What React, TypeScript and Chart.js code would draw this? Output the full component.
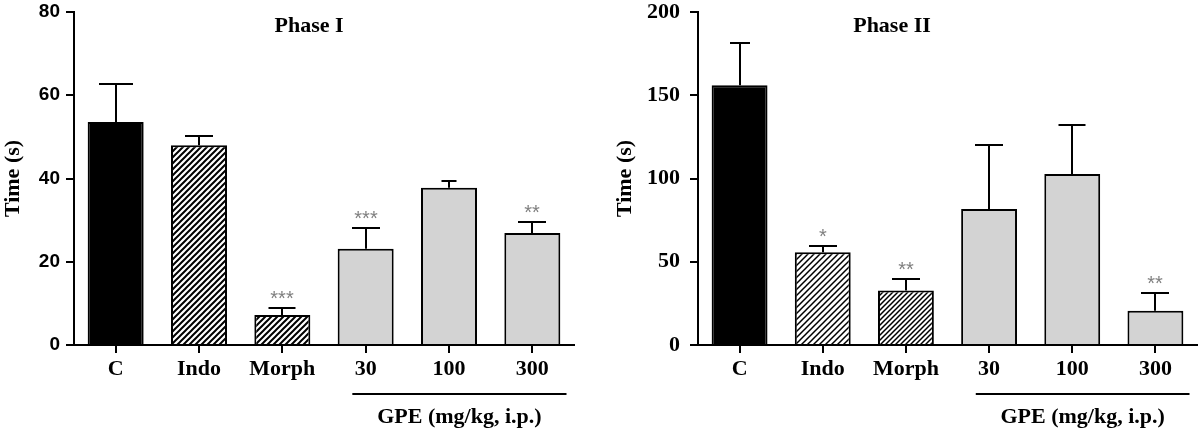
import React, { useEffect, useRef } from "react";
import { Chart, registerables } from "chart.js";

Chart.register(...registerables);

// ---------- data ----------
const categories = ["C", "Indo", "Morph", "30", "100", "300"];

const phase1Means = [53.6, 48.0, 7.2, 23.1, 37.8, 26.9];
const phase1Sem = [9.0, 2.1, 1.7, 5.0, 1.7, 2.7];
const phase1Stars = ["", "", "***", "***", "", "**"];
const phase1Max = 80;
const phase1Step = 20;

const phase2Means = [156.0, 55.7, 32.8, 81.7, 102.7, 20.6];
const phase2Sem = [25.6, 4.0, 6.6, 38.6, 29.4, 10.4];
const phase2Stars = ["", "*", "**", "", "", "**"];
const phase2Max = 200;
const phase2Step = 50;

const groupLabel = "GPE (mg/kg, i.p.)";
const yTitle = "Time (s)";

// ---------- styling ----------
const SERIF = "'Liberation Serif', 'Times New Roman', serif";
const SANS = "'Liberation Sans', Arial, sans-serif";

function makeHatch(ctx: CanvasRenderingContext2D, spacing: number, lw: number) {
  const c = document.createElement("canvas");
  c.width = spacing;
  c.height = spacing;
  const t = c.getContext("2d")!;
  t.fillStyle = "#fff";
  t.fillRect(0, 0, spacing, spacing);
  t.strokeStyle = "#000";
  t.lineWidth = lw;
  t.beginPath();
  t.moveTo(-1, spacing + 1);
  t.lineTo(spacing + 1, -1);
  t.moveTo(-1, 1);
  t.lineTo(1, -1);
  t.moveTo(spacing - 1, spacing + 1);
  t.lineTo(spacing + 1, spacing - 1);
  t.stroke();
  return ctx.createPattern(c, "repeat");
}

const overlay = {
  id: "overlay",
  afterDatasetsDraw(chart: any, _args: any, opts: any) {
    const { ctx } = chart;
    const x = chart.scales.x;
    const y = chart.scales.y;
    const catW = x.getPixelForValue(1) - x.getPixelForValue(0);
    ctx.save();
    opts.means.forEach((m: number, i: number) => {
      const cx = Math.round(x.getPixelForValue(i));
      const yTop = y.getPixelForValue(m);
      const yErr = Math.round(y.getPixelForValue(m + opts.sem[i]));
      const half = opts.caps[i] / 2;
      ctx.strokeStyle = "#000";
      ctx.lineWidth = 2;
      ctx.beginPath();
      ctx.moveTo(cx, yTop);
      ctx.lineTo(cx, yErr);
      ctx.moveTo(cx - half, yErr);
      ctx.lineTo(cx + half, yErr);
      ctx.stroke();
      if (opts.stars[i]) {
        ctx.fillStyle = "#808080";
        ctx.font = `20px ${SANS}`;
        ctx.textAlign = "center";
        ctx.textBaseline = "alphabetic";
        ctx.fillText(opts.stars[i], cx, yErr - 3);
      }
    });
    // group line + label
    const x0 = x.getPixelForValue(3) - 0.16 * catW;
    const x1 = x.getPixelForValue(5) + 0.41 * catW;
    ctx.strokeStyle = "#000";
    ctx.lineWidth = 2;
    ctx.beginPath();
    ctx.moveTo(x0, 394);
    ctx.lineTo(x1, 394);
    ctx.stroke();
    ctx.fillStyle = "#000";
    ctx.font = `bold 22px ${SERIF}`;
    ctx.textAlign = "center";
    ctx.textBaseline = "middle";
    ctx.fillText(groupLabel, (x0 + x1) / 2, 417);
    // panel title
    ctx.fillText(opts.title, opts.titleX, 26);
    ctx.restore();
  },
};

type Cfg = {
  means: number[];
  sem: number[];
  stars: string[];
  caps: number[];
  max: number;
  step: number;
  title: string;
  titleX: number;
  padLeft: number;
  padRight: number;
  yWidth: number;
  yTickFont: any;
  yTickPad: number;
  hatchA: [number, number];
  hatchB: [number, number];
};

function PhaseChart({ cfg }: { cfg: Cfg }) {
  const ref = useRef<HTMLCanvasElement>(null);
  useEffect(() => {
    const canvas = ref.current!;
    const ctx = canvas.getContext("2d")!;
    const grey = "#d3d3d3";
    const colors = [
      "#000",
      makeHatch(ctx, cfg.hatchA[0], cfg.hatchA[1]),
      makeHatch(ctx, cfg.hatchB[0], cfg.hatchB[1]),
      grey,
      grey,
      grey,
    ];
    const chart = new Chart(ctx, {
      type: "bar",
      data: {
        labels: categories,
        datasets: [
          {
            data: cfg.means,
            backgroundColor: colors as any,
            borderColor: "#000",
            borderWidth: 2,
            borderSkipped: "start",
            barPercentage: 0.672,
            categoryPercentage: 1,
          },
        ],
      },
      options: {
        responsive: false,
        animation: false,
        devicePixelRatio: 1,
        layout: { padding: { top: 12, left: cfg.padLeft, right: cfg.padRight, bottom: 0 } },
        plugins: {
          legend: { display: false },
          tooltip: { enabled: false },
          overlay: {
            means: cfg.means,
            sem: cfg.sem,
            stars: cfg.stars,
            caps: cfg.caps,
            title: cfg.title,
            titleX: cfg.titleX,
          },
        } as any,
        scales: {
          x: {
            grid: {
              offset: false,
              drawOnChartArea: false,
              drawTicks: true,
              tickLength: 8,
              color: "#000",
              lineWidth: 2,
            },
            border: { display: true, color: "#000", width: 2 },
            ticks: {
              color: "#000",
              font: { family: SERIF, size: 22, weight: "bold" },
              padding: 3,
              autoSkip: false,
              maxRotation: 0,
            },
            afterFit: (s: any) => {
              s.height = 85;
              s.paddingLeft = 0;
              s.paddingRight = 0;
            },
          },
          y: {
            min: 0,
            max: cfg.max,
            grid: {
              drawOnChartArea: false,
              drawTicks: true,
              tickLength: 8,
              color: "#000",
              lineWidth: 2,
            },
            border: { display: true, color: "#000", width: 2 },
            ticks: {
              stepSize: cfg.step,
              color: "#000",
              font: cfg.yTickFont,
              padding: cfg.yTickPad,
            },
            title: {
              display: true,
              text: yTitle,
              color: "#000",
              font: { family: SERIF, size: 22, weight: "bold" },
              padding: 0,
            },
            afterFit: (s: any) => {
              s.width = cfg.yWidth;
              s.paddingTop = 0;
              s.paddingBottom = 0;
            },
          },
        },
      },
      plugins: [overlay as any],
    });
    return () => chart.destroy();
  }, []);
  return (
    <canvas
      ref={ref}
      width={600}
      height={430}
      style={{ display: "block", width: 600, height: 430 }}
    />
  );
}

const leftCfg: Cfg = {
  means: phase1Means,
  sem: phase1Sem,
  stars: phase1Stars,
  caps: [34, 28, 27, 28, 15, 28],
  max: phase1Max,
  step: phase1Step,
  title: "Phase I",
  titleX: 309,
  padLeft: 0,
  padRight: 26,
  yWidth: 74,
  yTickFont: { family: SANS, size: 19, weight: "bold", lineHeight: 1 },
  yTickPad: 6,
  hatchA: [6, 2],
  hatchB: [6, 2],
};

const rightCfg: Cfg = {
  means: phase2Means,
  sem: phase2Sem,
  stars: phase2Stars,
  caps: [20, 28, 28, 28, 27, 28],
  max: phase2Max,
  step: phase2Step,
  title: "Phase II",
  titleX: 292,
  padLeft: 12,
  padRight: 3,
  yWidth: 86,
  yTickFont: { family: SERIF, size: 22, weight: "bold", lineHeight: 1 },
  yTickPad: 10,
  hatchA: [6, 1.5],
  hatchB: [5, 1.5],
};

export default function App() {
  return (
    <div
      style={{
        position: "fixed",
        left: 0,
        top: 0,
        width: 1200,
        height: 430,
        display: "flex",
        background: "#fff",
      }}
    >
      <PhaseChart cfg={leftCfg} />
      <PhaseChart cfg={rightCfg} />
    </div>
  );
}
